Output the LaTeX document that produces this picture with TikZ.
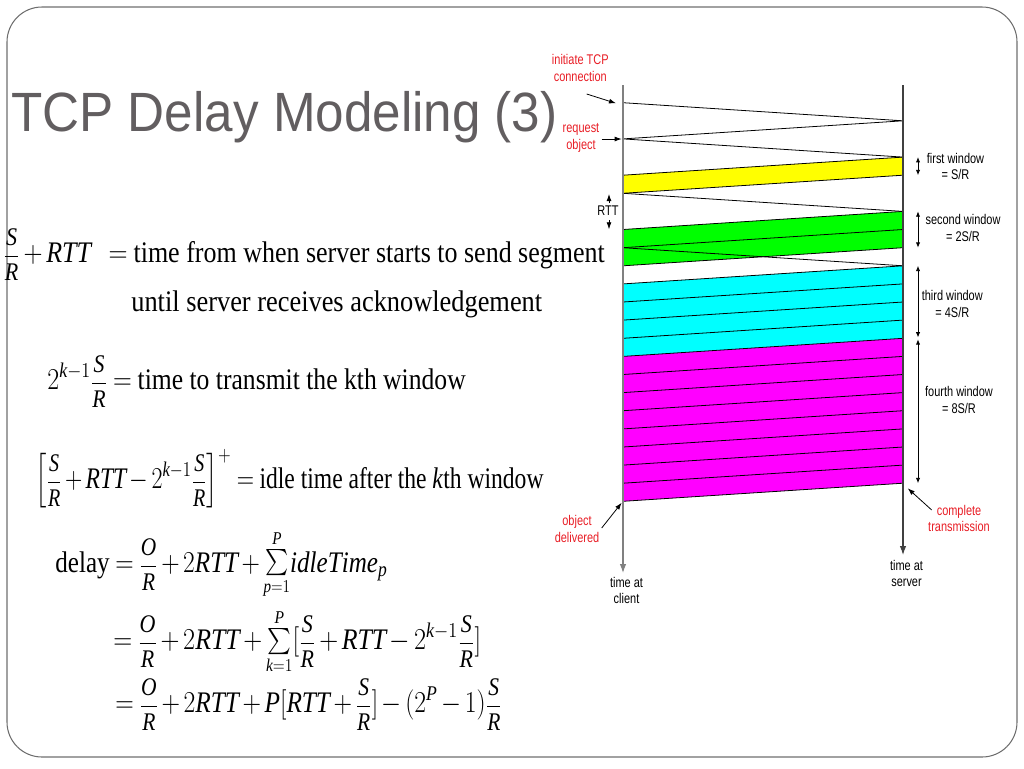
\documentclass[tikz,border=0pt]{standalone}
\usepackage{amsmath}
\usepackage{graphicx}
\usepackage{fontspec}
\setmainfont{Liberation Serif}
\newfontfamily\titlefont[FakeStretch=0.925]{Liberation Sans}
\newfontfamily\labelfont[FakeStretch=0.78]{Liberation Sans}
\usetikzlibrary{arrows.meta}
\definecolor{titlegray}{RGB}{98,94,96}
\definecolor{framegray}{RGB}{110,110,110}
\definecolor{labelred}{RGB}{232,28,36}
\definecolor{winyellow}{RGB}{255,255,0}
\definecolor{wingreen}{RGB}{0,255,0}
\definecolor{wincyan}{RGB}{0,255,255}
\definecolor{winmagenta}{RGB}{255,0,255}
\newcommand{\sq}[2][0.87]{\scalebox{#1}[1]{\medmuskip=2.5mu\thickmuskip=4mu #2}}
\newcommand{\smallfrac}[2]{\vcenter{\hbox{\scalebox{0.85}{$\dfrac{\mathit{#1}}{\mathit{#2}}$}}}}
\newcommand{\smallsum}[2]{\vcenter{\hbox{\scalebox{0.86}{$\textstyle\sum\limits_{#1}^{#2}$}}}}
\newcommand{\fracSR}{\smallfrac{S}{R}}
\newcommand{\fracOR}{\smallfrac{O}{R}}
\newcommand{\rtt}{\mathit{RTT}}

\begin{document}
\begin{tikzpicture}[x=0.02cm, y=-0.02cm,
    msg/.style={line width=0.45pt},
    axisline/.style={line width=0.6pt, -{Latex[length=5pt,width=3.6pt]}},
    ptr/.style={line width=0.45pt, -{Latex[length=4pt,width=2.8pt]}},
    winspan/.style={line width=0.45pt, {Latex[length=3pt,width=2.4pt]}-{Latex[length=3pt,width=2.4pt]}},
    lbl/.style={font=\labelfont\fontsize{8}{9.6}\selectfont, inner sep=0pt, align=center},
    note/.style={lbl, text=labelred},
    eqn/.style={anchor=base west, inner sep=0pt, font=\fontsize{17}{20}\selectfont}]
    \useasboundingbox (0,0) rectangle (1024,768);
    % Slide frame and title
    \draw[framegray, line width=0.6pt, rounded corners=0.7cm] (7,7) rectangle (1017,757);
    \node[anchor=base west, inner sep=0pt, text=titlegray, font=\titlefont\fontsize{31.5}{36}\selectfont] (title) at (11,131.7) {TCP Delay Modeling (3)};
    % Equations
    \node[eqn] (eqrtt) at (3,262) {\sq{$\fracSR+\rtt\;\;=\text{time from when server starts to send segment}$}};
    \node[eqn] (equntil) at (131,311) {\sq[0.883]{until server receives acknowledgement}};
    \node[eqn] (eqwin) at (47,389) {\sq[0.858]{$2^{\mathit{k}-1}\fracSR=\text{time to transmit the kth window}$}};
    \node[eqn] (eqidle) at (35,488) {\sq[0.79]{$\left[\fracSR+\rtt-2^{\mathit{k}-1}\fracSR\right]^{+}=\text{idle time after the \textit{k}th window}$}};
    \node[eqn] (eqdelay) at (55,572) {\sq[0.84]{$\text{delay}=\fracOR+2\rtt+\smallsum{\mathit{p}=1}{\mathit{P}}\mathit{idleTime}_{\mathit{p}}$}};
    \node[eqn] (eqsum) at (113,649) {\sq[0.865]{$=\fracOR+2\rtt+\smallsum{\mathit{k}=1}{\mathit{P}}[\fracSR+\rtt-2^{\mathit{k}-1}\fracSR]$}};
    \node[eqn] (eqclosed) at (115,712) {\sq[0.846]{$=\fracOR+2\rtt+\mathit{P}[\rtt+\fracSR]-(2^{\mathit{P}}-1)\fracSR$}};
    % Window bands
    \fill[winyellow] (903,157.1) -- (903,175.2) -- (623,193.3) -- (623,175.2) -- cycle;
    \fill[wingreen] (903,211.4) -- (903,247.7) -- (623,265.8) -- (623,229.5) -- cycle;
    \fill[wincyan] (903,265.8) -- (903,338.3) -- (623,356.4) -- (623,283.9) -- cycle;
    \fill[winmagenta] (903,338.3) -- (903,483.2) -- (623,501.3) -- (623,356.4) -- cycle;
    % Connection setup and request
    \draw[msg] (623,102.7) -- (903,120.8) -- (623,138.9) -- (903,157.1);
    % Segments of first window + ack
    \draw[msg] (903,157.1) -- (623,175.2); \draw[msg] (903,175.2) -- (623,193.3);
    \draw[msg] (623,193.3) -- (903,211.4);
    % Segments of second window + ack
    \draw[msg] (903,211.4) -- (623,229.5); \draw[msg] (903,229.5) -- (623,247.7); \draw[msg] (903,247.7) -- (623,265.8);
    \draw[msg] (623,247.7) -- (903,265.8);
    % Segments of third window
    \draw[msg] (903,265.8) -- (623,283.9); \draw[msg] (903,283.9) -- (623,302.0); \draw[msg] (903,302.0) -- (623,320.1);
    \draw[msg] (903,320.1) -- (623,338.3); \draw[msg] (903,338.3) -- (623,356.4);
    % Segments of fourth window
    \draw[msg] (903,356.4) -- (623,374.5); \draw[msg] (903,374.5) -- (623,392.6); \draw[msg] (903,392.6) -- (623,410.7);
    \draw[msg] (903,410.7) -- (623,428.9); \draw[msg] (903,428.9) -- (623,447.0); \draw[msg] (903,447.0) -- (623,465.1);
    \draw[msg] (903,465.1) -- (623,483.2); \draw[msg] (903,483.2) -- (623,501.3);
    % Time axes
    \coordinate (ctop) at (623,85); \coordinate (cbot) at (623,573);
    \coordinate (stop) at (903,85); \coordinate (sbot) at (903,555);
    \draw[axisline, gray] (ctop) -- (cbot);
    \draw[axisline, black!75] (stop) -- (sbot);
    \node[lbl] (tclient) at (626.5,590.5) {time at\\client};
    \node[lbl] (tserver) at (906.5,573.5) {time at\\server};
    % Window lengths
    \draw[winspan] (918,157.1) -- (918,175.2); \node[lbl] (win1) at (955.5,166.5) {first window\\= S/R};
    \draw[winspan] (918,211.4) -- (918,247.7); \node[lbl] (win2) at (963,228.3) {second window\\= 2S/R};
    \draw[winspan] (918,265.8) -- (918,337.5); \node[lbl] (win3) at (952.3,304) {third window\\= 4S/R};
    \draw[winspan] (918,339.3) -- (918,483.2); \node[lbl] (win4) at (959,400) {fourth window\\= 8S/R};
    % RTT marker
    \node[lbl] (rtt) at (608,211) {RTT};
    \coordinate (rttup) at (609,203); \coordinate (rtttop) at (609,194);
    \coordinate (rttdown) at (609,220); \coordinate (rttbot) at (609,229.3);
    \draw[ptr] (rttup) -- (rtttop); \draw[ptr] (rttdown) -- (rttbot);
    % Red notes
    \node[note] (initnote) at (580.3,67.8) {initiate TCP\\connection};
    \node[note] (reqnote) at (581,138.3) {request\\object};
    \node[note] (delnote) at (577,529.3) {object\\delivered};
    \node[note] (cmpnote) at (959,518.5) {complete\\transmission};
    \coordinate (inita) at (586.7,94); \coordinate (initb) at (616,103.3);
    \coordinate (reqa) at (601.7,139); \coordinate (reqb) at (621.7,139);
    \coordinate (dela) at (601.7,528); \coordinate (delb) at (621.7,502.7);
    \coordinate (cmpa) at (931.7,510); \coordinate (cmpb) at (907.7,488.3);
    \draw[ptr] (inita) -- (initb); \draw[ptr] (reqa) -- (reqb);
    \draw[ptr] (dela) -- (delb); \draw[ptr] (cmpa) -- (cmpb);
\end{tikzpicture}
\end{document}
